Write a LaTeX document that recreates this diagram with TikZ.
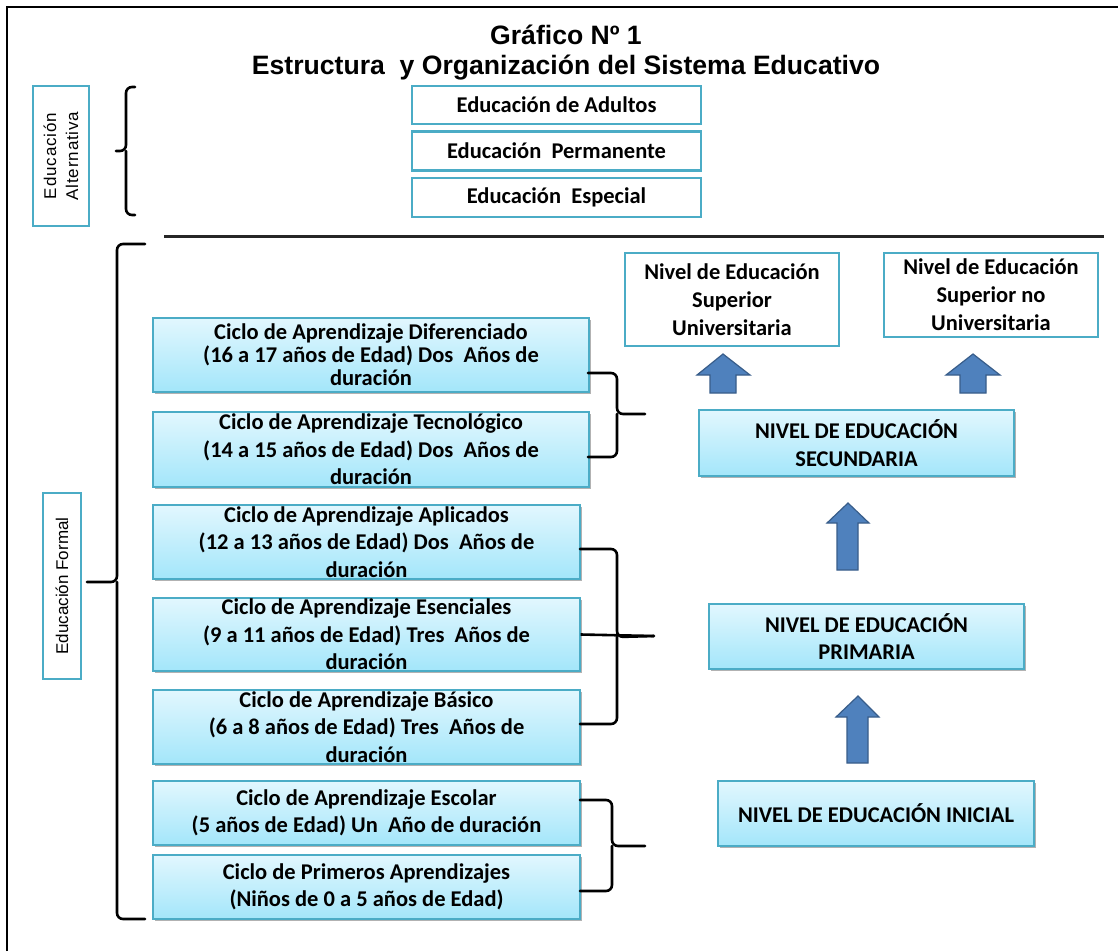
\documentclass[tikz,border=0pt]{standalone}
\usepackage{fontspec}
\newfontfamily\arial{Liberation Sans}
\newfontfamily\arialsp[LetterSpace=5]{Liberation Sans}
\newfontfamily\calib{Carlito}
\usetikzlibrary{shadows}
\definecolor{teal1}{HTML}{4BACC6}
\definecolor{gtop}{HTML}{E2F7FE}
\definecolor{gbot}{HTML}{A3E6FA}
\definecolor{arrfill}{HTML}{4F81BD}
\definecolor{arrdraw}{HTML}{385D8A}
\tikzset{
  wbox/.style={draw=teal1, line width=2.4pt, fill=white, inner sep=0pt, align=center,
    font=\calib\bfseries\fontsize{22.5}{28}\selectfont},
  cbox/.style={draw=teal1, line width=1.4pt, top color=gtop, bottom color=gbot, inner sep=0pt, align=center,
    drop shadow={shadow xshift=1.5pt, shadow yshift=-2pt, opacity=0.3, fill=black},
    font=\calib\bfseries\fontsize{22.5}{27.5}\selectfont},
  lbox/.style={draw=teal1, line width=2.4pt, fill=white, inner sep=0pt, align=center},
  bracel/.style={line width=2.6pt, rounded corners=6pt, line cap=round},
  blockarr/.style={fill=arrfill, draw=arrdraw, line width=1.2pt, line join=miter},
}
\begin{document}
\begin{tikzpicture}[x=1pt,y=-1pt]
\useasboundingbox (0,0) rectangle (1118,951);
\fill[white] (0,0) rectangle (1118,951);
% frame
\draw[line width=2pt] (7,951) -- (7,7) -- (1118,7);
% title
\node[font=\arial\bfseries\fontsize{26.6}{30}\selectfont] (t1) at (566,35) {Gráfico Nº 1};
\node[font=\arial\bfseries\fontsize{26.6}{30}\selectfont] (t2) at (566,68) {Estructura\ \ y Organización del Sistema Educativo};
% alternative education
\node[lbox, minimum width=56pt, minimum height=140pt] (alt) at (61,156) {};
\node[rotate=90, align=center, font=\arialsp\fontsize{17}{22}\selectfont] (altt) at (alt.center) {Educación\\Alternativa};
\draw[bracel] (135,87) -- (126,87) -- (126,151) -- (116,151);
\draw[bracel] (126,151) -- (126,215) -- (135,215);
\node[wbox, minimum width=289pt, minimum height=38pt] (adu) at (556.5,105) {Educación de Adultos};
\node[wbox, minimum width=289pt, minimum height=39pt] (perm) at (556.5,151) {Educación\ \ Permanente};
\node[wbox, minimum width=289pt, minimum height=39pt] (esp) at (556.5,197.5) {Educación\ \ Especial};
% rule
\draw[line width=3pt, black!85] (164,236) -- (1104,236);
% formal education
\node[lbox, minimum width=38pt, minimum height=186pt] (for) at (62,586) {};
\node[rotate=90, font=\arial\fontsize{17}{21}\selectfont] (fort) at (for.center) {Educación Formal};
\draw[bracel] (145,244) -- (117,244) -- (117,582) -- (87,582);
\draw[bracel] (117,582) -- (117,919) -- (145,919);
% cycles
\node[cbox, minimum width=436pt, minimum height=74pt, font=\calib\bfseries\fontsize{22.5}{23}\selectfont] (dif) at (371,355)
  {Ciclo de Aprendizaje Diferenciado\\(16 a 17 años de Edad) Dos\ \ Años de\\duración};
\node[cbox, minimum width=436pt, minimum height=75pt] (tec) at (371,449.5)
  {Ciclo de Aprendizaje Tecnológico\\(14 a 15 años de Edad) Dos\ \ Años de\\duración};
\node[cbox, minimum width=427pt, minimum height=74pt] (apl) at (366.5,542)
  {Ciclo de Aprendizaje Aplicados\\(12 a 13 años de Edad) Dos\ \ Años de\\duración};
\node[cbox, minimum width=427pt, minimum height=73pt] (esen) at (366.5,634.5)
  {Ciclo de Aprendizaje Esenciales\\(9 a 11 años de Edad) Tres\ \ Años de\\duración};
\node[cbox, minimum width=427pt, minimum height=74pt] (bas) at (366.5,727)
  {Ciclo de Aprendizaje Básico\\(6 a 8 años de Edad) Tres\ \ Años de\\duración};
\node[cbox, minimum width=427pt, minimum height=64pt] (esc) at (366.5,813)
  {Ciclo de Aprendizaje Escolar\\(5 años de Edad) Un\ \ Año de duración};
\node[cbox, minimum width=427pt, minimum height=64pt] (pri) at (366.5,887)
  {Ciclo de Primeros Aprendizajes\\(Niños de 0 a 5 años de Edad)};
% right braces
\coordinate (tipA) at (645,414);
\coordinate (tipB) at (654,636);
\coordinate (tipC) at (645,846);
\draw[bracel] (588,373) -- (617,373) -- (617,414) -- (tipA);
\draw[bracel] (617,414) -- (617,457) -- (588,457);
\draw[bracel] (580,549) -- (617,549) -- (617,637) -- (tipB);
\draw[bracel] (617,637) -- (617,724) -- (580,724);
\draw[line width=2.6pt] (esen.east) -- (tipB);
\draw[bracel] (580,800) -- (612,800) -- (612,846) -- (tipC);
\draw[bracel] (612,846) -- (612,891) -- (580,891);
% levels
\node[wbox, minimum width=214pt, minimum height=93pt] (sup) at (732,299.5)
  {Nivel de Educación\\Superior\\Universitaria};
\node[wbox, minimum width=214pt, minimum height=84pt] (supno) at (991,295)
  {Nivel de Educación\\Superior no\\Universitaria};
\node[cbox, minimum width=315pt, minimum height=66pt] (sec) at (856.5,443)
  {NIVEL DE EDUCACIÓN\\SECUNDARIA};
\node[cbox, minimum width=315pt, minimum height=65pt] (prim) at (866.5,636.5)
  {NIVEL DE EDUCACIÓN\\PRIMARIA};
\node[cbox, minimum width=316pt, minimum height=65pt] (ini) at (876,813.5)
  {NIVEL DE EDUCACIÓN INICIAL};
% block arrows
\draw[blockarr] (710,393) -- (710,375) -- (697,375) -- (723,354) -- (750,375) -- (736,375) -- (736,393) -- cycle;
\draw[blockarr] (960,393) -- (960,375) -- (946,375) -- (973,354) -- (1000,375) -- (986,375) -- (986,393) -- cycle;
\draw[blockarr] (837,570) -- (837,523) -- (827,523) -- (848,503) -- (869,523) -- (858,523) -- (858,570) -- cycle;
\draw[blockarr] (847,763) -- (847,717) -- (836,717) -- (858,696) -- (879,717) -- (868,717) -- (868,763) -- cycle;
\end{tikzpicture}
\end{document}
